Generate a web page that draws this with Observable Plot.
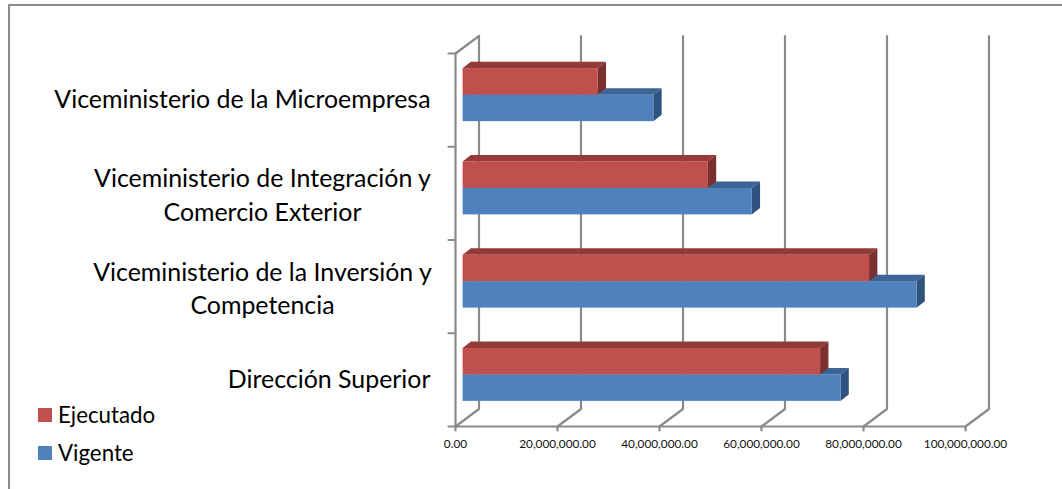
<!DOCTYPE html>
<html>
<head>
<meta charset="utf-8">
<style>
  html, body { margin: 0; padding: 0; background: #fff; }
  #chart { position: relative; width: 1062px; height: 489px; overflow: hidden; font-family: Lato, sans-serif; color: #000; }
  #frame { position: absolute; left: 8px; top: 4px; right: -10px; bottom: -10px; border-top: 2px solid #8c8c8c; border-left: 2px solid #8c8c8c; pointer-events: none; }
  #chart svg { position: absolute; left: 0; top: 0; }
  .lg { position: absolute; left: 38px; display: flex; align-items: center; font-size: 22.3px; line-height: 14px; height: 14px; }
  .lg i { display: block; width: 14px; height: 14px; margin-right: 6px; }
</style>
<script src="https://cdn.jsdelivr.net/npm/d3@7"></script>
<script src="https://cdn.jsdelivr.net/npm/@observablehq/plot@0.6"></script>
</head>
<body>
<div id="chart"><div id="frame"></div></div>
<script>
const categories = ["Dirección Superior", "Viceministerio de la Inversión y\nCompetencia", "Viceministerio de Integración y\nComercio Exterior", "Viceministerio de la Microempresa"];
const vigente = [74100000, 89000000, 56700000, 37400000];
const ejecutado = [70100000, 79700000, 48100000, 26500000];
const xTicks = [0, 20000000, 40000000, 60000000, 80000000, 100000000];
const yTicks = [0, 1, 2, 3, 4];

const XMAX = 100000000, YMAX = 4;
const xRange = [455, 965], yRange = [426, 53];
const toX = px => px * XMAX / (xRange[1] - xRange[0]);
const toY = px => px * YMAX / (yRange[0] - yRange[1]);

const wallDx = toX(23.5), wallDy = toY(17.5);
const barDx = toX(8.3), barDy = toY(6.3);
const barX0 = (wallDx - barDx) / 2, barYShift = toY(5);
const barH = toY(26.5);

const grey = "#8a8a8a";
const gridStyle = {x: "x", y: "y", stroke: grey, strokeWidth: 2.2, strokeLinejoin: "miter"};
const gridPath = [];
xTicks.forEach((t, i) => {
  const z = "g" + i;
  gridPath.push({z, x: t, y: -toY(4)}, {z, x: t, y: 0}, {z, x: t + wallDx, y: wallDy}, {z, x: t + wallDx, y: YMAX + wallDy});
});
const topY = YMAX;
const wallPath = [
  {z: "floor", x: 0, y: 0}, {z: "floor", x: XMAX, y: 0},
  {z: "wall", x: 0, y: 0}, {z: "wall", x: 0, y: topY}, {z: "wall", x: wallDx, y: topY + wallDy}
];
yTicks.forEach(t => wallPath.push({z: "t" + t, x: -toX(7), y: t}, {z: "t" + t, x: 0, y: t}));

function barMarks(v, yLow, front, topC, sideC) {
  const x1 = barX0, x2 = barX0 + v, y1 = yLow, y2 = yLow + barH;
  const top = [
    {x1, x2, y: y2},
    {x1: x1 + barDx, x2: x2 + barDx, y: y2 + barDy}
  ];
  const side = [
    {x: x2, y1, y2},
    {x: x2 + barDx, y1: y1 + barDy, y2: y2 + barDy}
  ];
  return [
    Plot.areaX(top, {x1: "x1", x2: "x2", y: "y", fill: topC, curve: "linear"}),
    Plot.areaY(side, {x: "x", y1: "y1", y2: "y2", fill: sideC, curve: "linear"}),
    Plot.rect([{x1, x2, y1, y2}], {x1: "x1", x2: "x2", y1: "y1", y2: "y2", fill: front})
  ];
}

const barLayers = [];
for (let i = categories.length - 1; i >= 0; i--) {
  const yc = i + 0.5 + barYShift;
  barLayers.push(...barMarks(vigente[i], yc - barH, "#4F81BD", "#3C6494", "#2F527E"));
  barLayers.push(...barMarks(ejecutado[i], yc, "#C0504D", "#943A38", "#7A302E"));
}

const singleLine = categories.map((c, i) => ({c, i})).filter(d => !d.c.includes("\n"));
const twoLine = categories.map((c, i) => ({c, i})).filter(d => d.c.includes("\n"));
const fontCat = {fontFamily: "Lato, sans-serif", fontSize: 24.9, fill: "#000"};

const plot = Plot.plot({
  width: 1062, height: 489,
  marginLeft: 0, marginRight: 0, marginTop: 0, marginBottom: 0,
  style: {background: "transparent", overflow: "visible"},
  x: {domain: [0, XMAX], range: xRange, axis: null},
  y: {domain: [0, YMAX], range: yRange, axis: null},
  marks: [
    Plot.line(gridPath, {...gridStyle, z: "z"}),
    Plot.line(wallPath, {...gridStyle, z: "z"}),
    ...barLayers,
    Plot.text(singleLine, {x: () => 0, y: d => d.i + 0.5, text: "c", textAnchor: "end", dx: -25, ...fontCat}),
    Plot.text(twoLine, {x: () => 0, y: d => d.i + 0.5, text: "c", textAnchor: "middle", dx: -193, lineHeight: 1.33, ...fontCat}),
    Plot.text(xTicks, {x: d => d, y: () => 0, text: d => d3.format(",.2f")(d), dy: 18, fontFamily: "Lato, sans-serif", fontSize: 11.8, fill: "#111"})
  ]
});
const chart = document.getElementById("chart");
chart.appendChild(plot);

const legendItems = [["Ejecutado", "#C0504D", 408], ["Vigente", "#4F81BD", 446]];
legendItems.forEach(([label, color, top]) => {
  const el = document.createElement("div");
  el.className = "lg";
  el.style.top = top + "px";
  const sw = document.createElement("i");
  sw.style.background = color;
  el.appendChild(sw);
  el.appendChild(document.createTextNode(label));
  chart.appendChild(el);
});
</script>
</body>
</html>
